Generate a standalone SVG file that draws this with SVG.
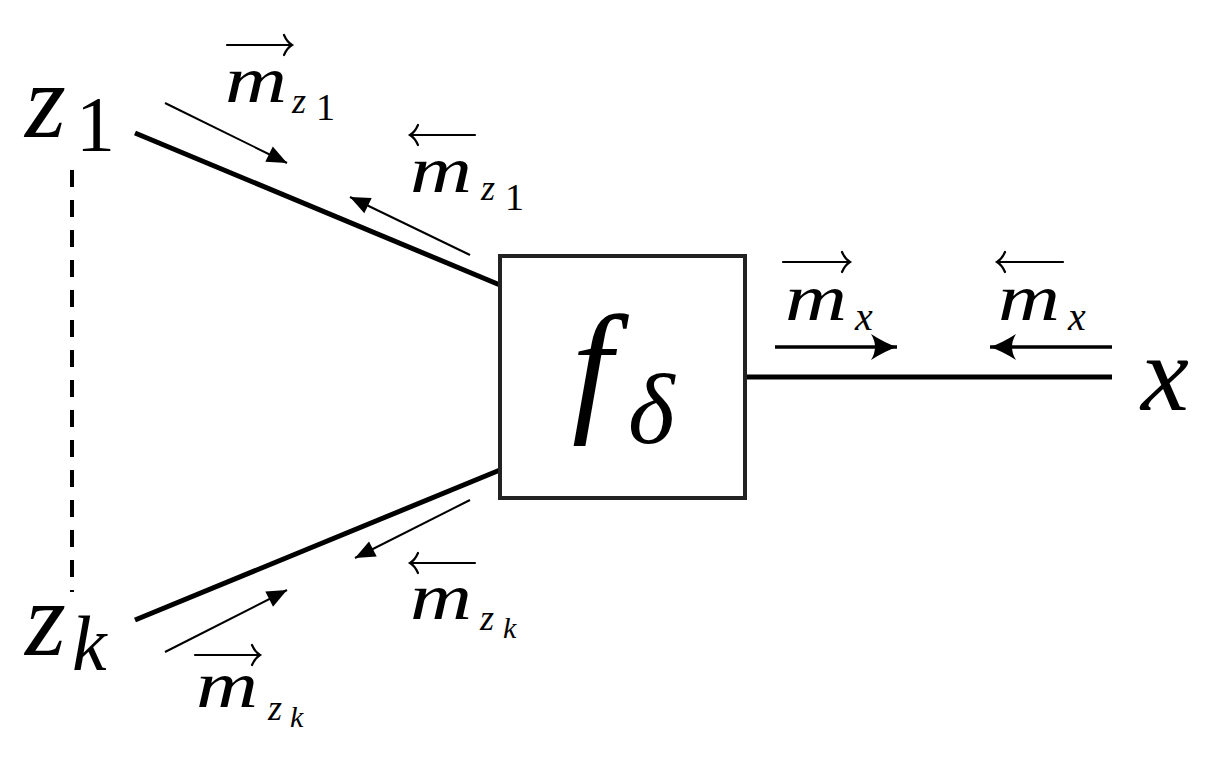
<svg xmlns="http://www.w3.org/2000/svg" width="1232" height="758" viewBox="0 0 1232 758">
<defs>
<marker id="tri" markerUnits="userSpaceOnUse" viewBox="-22 -10 24 20" refX="0" refY="0" markerWidth="24" markerHeight="20" orient="auto">
<path d="M0,0 L-20,-8.5 L-20,8.5 Z" fill="#000"/>
</marker>
<marker id="tex" markerUnits="userSpaceOnUse" viewBox="-28 -15 30 30" refX="0" refY="0" markerWidth="30" markerHeight="30" orient="auto">
<path d="M0,0 Q-12,-4 -26,-13 Q-18,0 -26,13 Q-12,4 0,0 Z" fill="#000"/>
</marker>
</defs>

<g id="connectors" stroke="#000" fill="none">
<g stroke-width="5">
<line x1="135" y1="133" x2="500" y2="285"/>
<line x1="135" y1="620" x2="500" y2="470"/>
<line x1="745" y1="377" x2="1112" y2="377"/>
</g>
<line x1="72" y1="170" x2="72" y2="592" stroke-width="4" stroke-dasharray="17,13"/>
<g stroke-width="2" marker-end="url(#tri)">
<line x1="165" y1="103" x2="287" y2="163"/>
<line x1="470" y1="255" x2="350" y2="197"/>
<line x1="165" y1="652" x2="287" y2="590"/>
<line x1="470" y1="500" x2="355" y2="558"/>
</g>
<g stroke-width="3.5" marker-end="url(#tex)">
<line x1="775" y1="347" x2="897" y2="347"/>
<line x1="1112" y1="347" x2="990" y2="347"/>
</g>
</g>

<g id="node-f">
<rect x="500" y="256" width="245" height="242" fill="#fff" stroke="#222" stroke-width="4"/>
<text font-family="Liberation Serif" font-style="italic" x="572" y="415" font-size="145">f</text>
<text font-family="Liberation Serif" font-style="italic" x="628" y="443" font-size="100">δ</text>
</g>

<g id="node-z1">
<text font-family="Liberation Serif" font-style="italic" x="25" y="137" font-size="105">z</text>
<text font-family="Liberation Serif" x="76" y="150" font-size="78">1</text>
</g>

<g id="node-zk">
<text font-family="Liberation Serif" font-style="italic" x="25" y="655" font-size="105">z</text>
<text font-family="Liberation Serif" font-style="italic" x="72" y="670" font-size="78">k</text>
</g>

<g id="node-x">
<text font-family="Liberation Serif" font-style="italic" x="1141" y="410" font-size="108">x</text>
</g>

<g id="labels" stroke-linecap="round">
<g id="lbl-mz1-fwd">
<path d="M227,45 H292 M284,35 Q287,42 292,45 Q287,48 284,55" stroke="#000" stroke-width="2.2" fill="none"/>
<text font-family="Liberation Serif" font-style="italic" x="225" y="102" font-size="66" textLength="62" lengthAdjust="spacingAndGlyphs">m</text>
<text font-family="Liberation Serif" font-style="italic" x="292" y="113" font-size="36">z</text>
<text font-family="Liberation Serif" x="316" y="120" font-size="38">1</text>
</g>
<g id="lbl-mz1-bwd">
<path d="M475,135 H410 M418,125 Q415,132 410,135 Q415,138 418,145" stroke="#000" stroke-width="2.2" fill="none"/>
<text font-family="Liberation Serif" font-style="italic" x="410" y="192" font-size="66" textLength="62" lengthAdjust="spacingAndGlyphs">m</text>
<text font-family="Liberation Serif" font-style="italic" x="481" y="200" font-size="36">z</text>
<text font-family="Liberation Serif" x="505" y="210" font-size="38">1</text>
</g>
<g id="lbl-mzk-bwd">
<path d="M475,563 H410 M418,553 Q415,560 410,563 Q415,566 418,573" stroke="#000" stroke-width="2.2" fill="none"/>
<text font-family="Liberation Serif" font-style="italic" x="410" y="619" font-size="66" textLength="62" lengthAdjust="spacingAndGlyphs">m</text>
<text font-family="Liberation Serif" font-style="italic" x="480" y="630" font-size="36">z</text>
<text font-family="Liberation Serif" font-style="italic" x="503" y="638" font-size="30">k</text>
</g>
<g id="lbl-mzk-fwd">
<path d="M195,655 H260 M252,645 Q255,652 260,655 Q255,658 252,665" stroke="#000" stroke-width="2.2" fill="none"/>
<text font-family="Liberation Serif" font-style="italic" x="196" y="707" font-size="66" textLength="62" lengthAdjust="spacingAndGlyphs">m</text>
<text font-family="Liberation Serif" font-style="italic" x="268" y="720" font-size="36">z</text>
<text font-family="Liberation Serif" font-style="italic" x="290" y="727" font-size="30">k</text>
</g>
<g id="lbl-mx-fwd">
<path d="M783,262 H850 M842,252 Q845,259 850,262 Q845,265 842,272" stroke="#000" stroke-width="2.2" fill="none"/>
<text font-family="Liberation Serif" font-style="italic" x="785" y="320" font-size="66" textLength="62" lengthAdjust="spacingAndGlyphs">m</text>
<text font-family="Liberation Serif" font-style="italic" x="855" y="330" font-size="40">x</text>
</g>
<g id="lbl-mx-bwd">
<path d="M1063,262 H997 M1005,252 Q1002,259 997,262 Q1002,265 1005,272" stroke="#000" stroke-width="2.2" fill="none"/>
<text font-family="Liberation Serif" font-style="italic" x="998" y="320" font-size="66" textLength="62" lengthAdjust="spacingAndGlyphs">m</text>
<text font-family="Liberation Serif" font-style="italic" x="1068" y="330" font-size="40">x</text>
</g>
</g>
</svg>
